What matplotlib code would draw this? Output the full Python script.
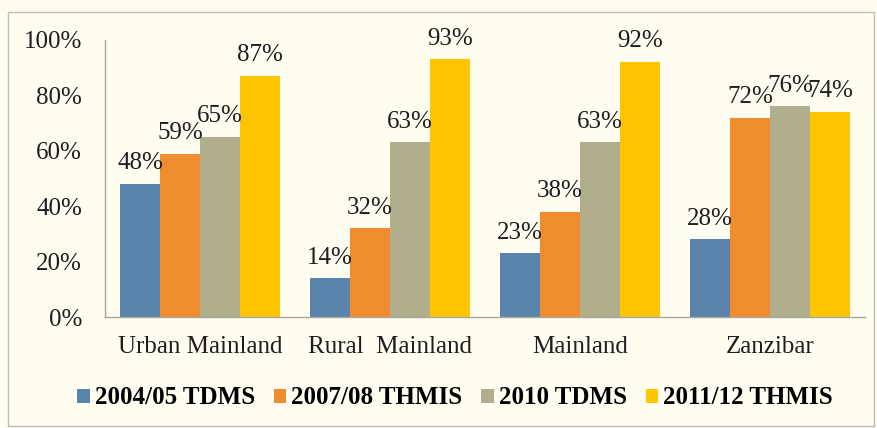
import matplotlib
matplotlib.use("Agg")
import matplotlib.pyplot as plt
import numpy as np
from matplotlib.patches import Rectangle

categories = ["Urban Mainland", "Rural  Mainland", "Mainland", "Zanzibar"]
series_names = ["2004/05 TDMS", "2007/08 THMIS", "2010 TDMS", "2011/12 THMIS"]
v_2004 = [0.48, 0.14, 0.23, 0.28]
v_2007 = [0.59, 0.32, 0.38, 0.72]
v_2010 = [0.65, 0.63, 0.63, 0.76]
v_2011 = [0.87, 0.93, 0.92, 0.74]
y_ticks = [0.0, 0.2, 0.4, 0.6, 0.8, 1.0]

colors = ["#5A84AB", "#EE8C2E", "#B0AE8C", "#FFC400"]
text_color = "#1E1E1E"

plt.rcParams["font.family"] = ["Liberation Serif", "DejaVu Serif"]

fig = plt.figure(figsize=(8.78, 4.28), dpi=100, facecolor="#FFFDF0")
ax = fig.add_axes([105 / 878, 1 - 317 / 428, 760 / 878, 277 / 428])
ax.set_facecolor("none")

# outer chart border
fig.patches.append(Rectangle((8 / 878, 0.004), 866 / 878, 1 - 12 / 428 - 0.004,
                             transform=fig.transFigure, fill=False,
                             edgecolor="#BDBDBD", linewidth=1.0))

x = np.arange(len(categories))
w = 0.21
all_vals = [v_2004, v_2007, v_2010, v_2011]
for i, (vals, name, c) in enumerate(zip(all_vals, series_names, colors)):
    pos = x + (i - 1.5) * w
    bars = ax.bar(pos, vals, width=w, color=c, label=name, linewidth=0)
    for b, v in zip(bars, vals):
        ax.text(b.get_x() + b.get_width() / 2, v + 0.035, f"{round(v * 100):d}%",
                ha="center", va="bottom", fontsize=18, color=text_color)

ax.set_xlim(-0.5, len(categories) - 0.5)
ax.set_ylim(0, 1.0)
ax.set_yticks(y_ticks)
ax.set_yticklabels([f"{round(t * 100):d}%" for t in y_ticks])
ax.set_xticks(x)
ax.set_xticklabels(categories)
ax.tick_params(axis="y", length=0, pad=16.5, labelsize=18, labelcolor=text_color)
ax.tick_params(axis="x", length=0, pad=14, labelsize=18, labelcolor=text_color)

for side in ["top", "right"]:
    ax.spines[side].set_visible(False)
for side in ["left", "bottom"]:
    ax.spines[side].set_color("#A8A89A")
    ax.spines[side].set_linewidth(1.0)

fig.legend(loc="center", bbox_to_anchor=(455 / 878, 1 - 398 / 428), ncol=4,
           frameon=False, handlelength=0.5, handleheight=0.5, handletextpad=0.2,
           columnspacing=0.75, prop={"family": ["Liberation Serif"], "weight": "bold", "size": 18})

fig.savefig("out.png", dpi=100, facecolor=fig.get_facecolor())
